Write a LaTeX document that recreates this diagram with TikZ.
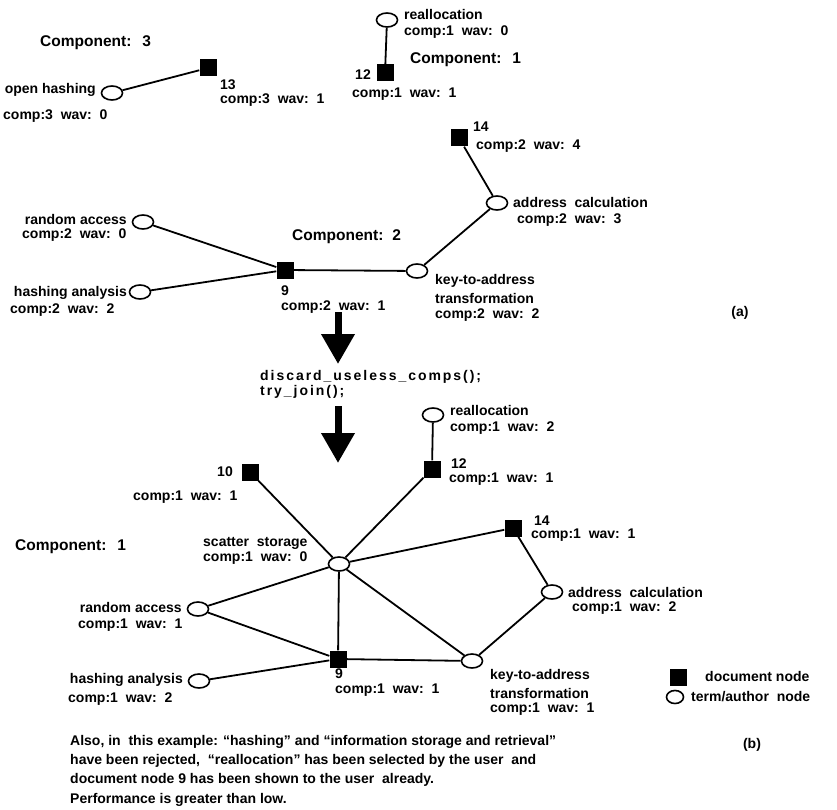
\documentclass[tikz,border=0pt]{standalone}
\usepackage{fontspec}
\setmainfont{Liberation Sans}
\newfontfamily\codefont[LetterSpace=14]{Liberation Sans}
\usetikzlibrary{positioning,arrows.meta,shapes.geometric}
\newcommand{\compwav}[2]{comp:#1\ \ wav:\ \ #2}
\tikzset{
  cw/.style={font=\fontsize{14}{16}\selectfont\bfseries, inner sep=0pt, text=black},
  cwl/.style={cw, anchor=west},
  cwr/.style={cw, anchor=east},
  comptitle/.style={cwl, font=\fontsize{15.5}{17}\selectfont\bfseries},
  docnode/.style={rectangle, fill=black, minimum size=17pt, inner sep=0pt},
  termnode/.style={ellipse, draw=black, line width=1.6pt, fill=white,
    minimum width=21pt, minimum height=14pt, inner sep=0pt},
  link/.style={line width=1.8pt},
  bigarr/.style={line width=7pt, -{Triangle[length=30pt,width=32pt]}},
}
\begin{document}
\begin{tikzpicture}[x=1pt, y=-1pt]
  \useasboundingbox (0,0) rectangle (837,810);

  % (a) before joining
  \node[comptitle] (tcomp3) at (40,43) {Component:\hspace{11pt}3};
  \node[comptitle] (tcomp1) at (410,60) {Component:\hspace{11pt}1};
  \node[comptitle] (tcomp2) at (292,237) {Component:\hspace{9pt}2};

  \node[docnode] (a13) at (208,68) {};
  \node[termnode] (aopen) at (112,93) {};
  \node[termnode] (arealloc) at (387,20) {};
  \node[docnode] (a12) at (385,73) {};
  \node[docnode] (a14) at (459,138) {};
  \node[termnode] (aaddr) at (497,203) {};
  \node[termnode] (akey) at (417,271) {};
  \node[docnode] (a9) at (285,270) {};
  \node[termnode] (arandom) at (143,222) {};
  \node[termnode] (ahash) at (140,292) {};

  \node[cwr] (aopenl) at (96,90) {open hashing};
  \node[cwl] (aopenc) at (3,116) {\compwav{3}{0}};
  \node[cwl] (a13l) at (220,85) {13};
  \node[cwl] (a13c) at (220,100) {\compwav{3}{1}};
  \node[cwl] (arealll) at (404,15) {reallocation};
  \node[cwl] (areallc) at (404,32) {\compwav{1}{0}};
  \node[cwr] (a12l) at (371,75) {12};
  \node[cwl] (a12c) at (352,94) {\compwav{1}{1}};
  \node[cwl] (a14l) at (473,127) {14};
  \node[cwl] (a14c) at (476,146) {\compwav{2}{4}};
  \node[cwl] (aaddrl) at (513,202) {address\ \ calculation};
  \node[cwl] (aaddrc) at (517,220) {\compwav{2}{3}};
  \node[cwl] (akeyl) at (435,281) {key-to-address};
  \node[cwl] (akeyt) at (435,298) {transformation};
  \node[cwl] (akeyc) at (435,315) {\compwav{2}{2}};
  \node[cwl] (a9l) at (281,291) {9};
  \node[cwl] (a9c) at (281,307) {\compwav{2}{1}};
  \node[cwr] (arandoml) at (127,219) {random access};
  \node[cwl] (arandomc) at (22,235) {\compwav{2}{0}};
  \node[cwr] (ahashl) at (127,293) {hashing analysis};
  \node[cwl] (ahashc) at (10,310) {\compwav{2}{2}};
  \node[cw] (tagA) at (740,313) {(a)};

  \foreach \a/\b in {aopen/a13, arealloc/a12, arandom/a9, ahash/a9, a9/akey, akey/aaddr, aaddr/a14}
    \draw[link] (\a) -- (\b);

  % the two steps between
  \coordinate (arr1s) at (338,312);
  \coordinate (arr1e) at (338,364);
  \coordinate (arr2s) at (338,406);
  \coordinate (arr2e) at (338,463);
  \draw[bigarr] (arr1s) -- (arr1e);
  \draw[bigarr] (arr2s) -- (arr2e);
  \node[cwl, font=\fontsize{14}{16}\selectfont\bfseries\codefont] (step1) at (260,377) {discard\_useless\_comps();};
  \node[cwl, font=\fontsize{14}{16}\selectfont\bfseries\codefont] (step2) at (260,392) {try\_join();};

  % (b) after joining
  \node[comptitle] (tcomp1b) at (15,547) {Component:\hspace{11pt}1};

  \node[termnode] (brealloc) at (433,415) {};
  \node[docnode] (b12) at (432,469) {};
  \node[docnode] (b10) at (250,472) {};
  \node[termnode] (bscatter) at (339,564) {};
  \node[termnode] (brandom) at (198,609) {};
  \node[docnode] (b9) at (338,659) {};
  \node[termnode] (bhash) at (199,681) {};
  \node[docnode] (b14) at (513,528) {};
  \node[termnode] (baddr) at (552,592) {};
  \node[termnode] (bkey) at (472,661) {};

  \node[cwl] (breall) at (450,410) {reallocation};
  \node[cwl] (breallc) at (450,428) {\compwav{1}{2}};
  \node[cwl] (b12l) at (451,464) {12};
  \node[cwl] (b12c) at (449,479) {\compwav{1}{1}};
  \node[cwr] (b10l) at (233,472) {10};
  \node[cwl] (b10c) at (133,497) {\compwav{1}{1}};
  \node[cwl] (bscatterl) at (203,543) {scatter\ \ storage};
  \node[cwl] (bscatterc) at (203,558) {\compwav{1}{0}};
  \node[cwr] (brandoml) at (182,607) {random access};
  \node[cwl] (brandomc) at (78,625) {\compwav{1}{1}};
  \node[cwl] (b9l) at (335,674) {9};
  \node[cwl] (b9c) at (335,690) {\compwav{1}{1}};
  \node[cwr] (bhashl) at (183,680) {hashing analysis};
  \node[cwl] (bhashc) at (68,699) {\compwav{1}{2}};
  \node[cwl] (b14l) at (534,521) {14};
  \node[cwl] (b14c) at (531,535) {\compwav{1}{1}};
  \node[cwl] (baddrl) at (568,592) {address\ \ calculation};
  \node[cwl] (baddrc) at (572,608) {\compwav{1}{2}};
  \node[cwl] (bkeyl) at (490,676) {key-to-address};
  \node[cwl] (bkeyt) at (490,693) {transformation};
  \node[cwl] (bkeyc) at (490,709) {\compwav{1}{1}};

  \foreach \a/\b in {b10/bscatter, bscatter/b12, b12/brealloc, bscatter/b14, b14/baddr,
                     baddr/bkey, bscatter/bkey, bscatter/b9, bscatter/brandom,
                     brandom/b9, bhash/b9, b9/bkey}
    \draw[link] (\a) -- (\b);

  % legend
  \node[docnode] (legdoc) at (678,677) {};
  \node[termnode, minimum width=17pt, minimum height=13pt] (legterm) at (675,697) {};
  \node[cwl] (legdocl) at (705,676) {document node};
  \node[cwl] (legterml) at (691,697) {term/author\ \ node};
  \node[cw] (tagB) at (752,745) {(b)};

  \node[cw, anchor=north west, align=left, font=\fontsize{14}{19.3}\selectfont\bfseries] (note) at (70,735)
    {Also, in\ \ this example: ``hashing'' and ``information storage and retrieval''\\
     have been rejected,\ \ ``reallocation'' has been selected by the user\ \ and\\
     document node 9 has been shown to the user\ \ already.\\
     Performance is greater than low.};
\end{tikzpicture}
\end{document}
